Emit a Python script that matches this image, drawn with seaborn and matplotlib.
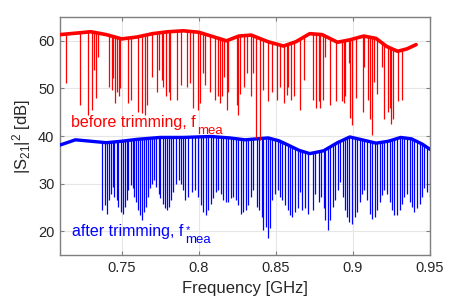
import numpy as np
import pandas as pd
import matplotlib
matplotlib.use("Agg")
import matplotlib.pyplot as plt
import seaborn as sns

red_base_f = [0.710, 0.720, 0.730, 0.740, 0.750, 0.760, 0.770, 0.780, 0.790, 0.800,
              0.810, 0.818, 0.826, 0.834, 0.845, 0.855, 0.863, 0.872, 0.880, 0.890,
              0.898, 0.907, 0.915, 0.922, 0.929, 0.935, 0.941]
red_base_db = [61.3, 61.6, 61.9, 61.3, 60.4, 60.8, 61.5, 61.9, 62.1, 61.8,
               60.8, 60.0, 61.0, 61.2, 59.8, 58.9, 59.8, 61.5, 61.3, 59.7,
               60.2, 61.0, 60.5, 58.8, 57.8, 58.3, 59.2]

blue_base_f = [0.710, 0.720, 0.730, 0.740, 0.750, 0.760, 0.775, 0.790, 0.808, 0.820,
               0.830, 0.845, 0.852, 0.858, 0.865, 0.872, 0.881, 0.890, 0.898, 0.906,
               0.915, 0.923, 0.931, 0.938, 0.945, 0.950]
blue_base_db = [38.1, 39.2, 38.9, 38.6, 38.9, 39.3, 39.7, 39.7, 39.9, 39.6,
                39.2, 39.6, 39.0, 38.1, 37.0, 36.3, 36.9, 38.6, 39.8, 39.2,
                38.5, 38.9, 39.7, 39.4, 38.3, 37.2]

# resonance dips: frequency [GHz] and minimum level [dB]
red_dip_f = [0.7139, 0.7230, 0.7284, 0.7310, 0.7321, 0.7332, 0.7349, 0.7418, 0.7436, 0.7446,
             0.7459, 0.7470, 0.7481, 0.7492, 0.7544, 0.7561, 0.7609, 0.7630, 0.7652, 0.7663,
             0.7695, 0.7728, 0.7745, 0.7760, 0.7771, 0.7788, 0.7804, 0.7814, 0.7862, 0.7884,
             0.7922, 0.7943, 0.7965, 0.7993, 0.8008, 0.8030, 0.8041, 0.8073, 0.8106, 0.8123,
             0.8138, 0.8153, 0.8166, 0.8182, 0.8192, 0.8247, 0.8257, 0.8268, 0.8296, 0.8312,
             0.8340, 0.8355, 0.8372, 0.8398, 0.8420, 0.8448, 0.8478, 0.8506, 0.8528, 0.8550,
             0.8571, 0.8582, 0.8600, 0.8615, 0.8658, 0.8680,
             0.8740, 0.8762, 0.8777, 0.8788, 0.8805, 0.8820, 0.8853, 0.8892, 0.8929, 0.8944,
             0.8950, 0.8972, 0.8983, 0.8994, 0.9022, 0.9065, 0.9074, 0.9095, 0.9108, 0.9124,
             0.9139, 0.9156, 0.9189, 0.9204, 0.9225, 0.9238, 0.9249, 0.9260, 0.9290, 0.9316]
red_dip_db = [51.1, 46.5, 44.4, 45.5, 53.9, 47.9, 56.7, 50.4, 49.7, 52.1,
              46.9, 49.3, 48.3, 50.0, 46.9, 47.6, 45.1, 44.8, 44.4, 46.5,
              52.5, 49.3, 53.9, 51.8, 50.4, 48.3, 49.3, 47.6, 47.6, 50.7,
              50.4, 51.1, 45.8, 45.5, 46.9, 53.2, 50.7, 49.3, 47.6, 48.3,
              46.9, 48.3, 52.5, 45.5, 49.3, 46.5, 44.4, 48.9, 50.4, 53.2,
              48.3, 53.2, 39.5, 39.2, 49.7, 47.3, 49.3, 47.6, 50.4, 46.9,
              48.6, 50.4, 47.6, 48.3, 45.5, 51.8,
              47.6, 45.8, 47.3, 45.8, 47.6, 56.7, 46.5, 47.3, 47.3, 46.9,
              48.3, 55.3, 43.7, 42.3, 47.9, 45.1, 54.6, 47.6, 43.5, 40.2,
              51.4, 48.9, 54.6, 43.5, 45.1, 45.8, 42.6, 43.5, 47.3, 47.6]

blue_dip_f = [0.7375, 0.7392, 0.7403, 0.7418, 0.7429, 0.7442, 0.7453, 0.7468, 0.7479, 0.7494,
              0.7507, 0.7522, 0.7533, 0.7544, 0.7559, 0.7572, 0.7583, 0.7594, 0.7609, 0.7620,
              0.7630, 0.7646, 0.7659, 0.7669, 0.7685, 0.7695, 0.7711, 0.7724, 0.7739, 0.7750,
              0.7765, 0.7778, 0.7793, 0.7804, 0.7819, 0.7836, 0.7853, 0.7869, 0.7884, 0.7901,
              0.7911, 0.7933, 0.7954, 0.7976, 0.7998, 0.8015, 0.8030, 0.8045, 0.8063, 0.8080,
              0.8095, 0.8110, 0.8128, 0.8145, 0.8160, 0.8175, 0.8192, 0.8210, 0.8225, 0.8240,
              0.8257, 0.8275, 0.8290, 0.8305, 0.8322, 0.8340, 0.8355, 0.8377, 0.8392, 0.8409,
              0.8420, 0.8435, 0.8448, 0.8463, 0.8478, 0.8496, 0.8513, 0.8528, 0.8543, 0.8560,
              0.8578, 0.8593, 0.8608, 0.8625, 0.8643, 0.8658, 0.8673, 0.8690, 0.8708,
              0.8740, 0.8755, 0.8777, 0.8792, 0.8810, 0.8820, 0.8836, 0.8853, 0.8870, 0.8885,
              0.8903, 0.8918, 0.8933, 0.8946, 0.8961, 0.8976, 0.8994, 0.9011, 0.9026, 0.9043,
              0.9059, 0.9074, 0.9091, 0.9108, 0.9124, 0.9141, 0.9156, 0.9173, 0.9188, 0.9204,
              0.9221, 0.9238, 0.9253, 0.9269, 0.9286, 0.9303, 0.9318, 0.9334, 0.9351, 0.9368,
              0.9383, 0.9398, 0.9416, 0.9433, 0.9448, 0.9463, 0.9481, 0.9498]
blue_dip_db = [24.4, 25.5, 23.7, 26.5, 27.9, 29.3, 27.2, 26.5, 25.1, 24.1,
               23.7, 25.1, 26.5, 28.6, 29.7, 29.0, 27.2, 26.2, 24.4, 23.4,
               22.3, 24.1, 25.1, 27.2, 29.0, 30.0, 30.7, 29.3, 27.9, 26.9,
               25.8, 24.8, 24.4, 25.1, 26.5, 28.3, 30.0, 30.7, 30.0, 28.6,
               26.5, 27.2, 28.3, 28.6, 27.2, 25.5, 24.1, 23.4, 24.4, 25.8,
               26.9, 28.3, 28.6, 27.9, 26.5, 26.2, 26.2, 26.9, 27.2, 26.5,
               25.5, 23.7, 24.1, 24.4, 25.5, 27.2, 28.6, 25.1, 24.4, 23.0,
               20.2, 20.9, 18.5, 20.6, 26.5, 27.9, 28.6, 27.2, 26.5, 25.5,
               24.4, 23.4, 23.0, 24.1, 24.8, 28.3, 24.4, 24.8, 23.7,
               24.4, 27.9, 26.2, 27.2, 24.8, 22.3, 20.2, 22.3, 25.1, 26.5,
               28.6, 30.4, 27.2, 24.4, 23.0, 21.9, 21.5, 23.0, 24.1, 26.2,
               27.9, 28.6, 26.5, 23.7, 22.6, 23.0, 24.4, 26.2, 27.6, 28.6,
               27.9, 26.2, 24.4, 23.4, 23.4, 24.4, 25.8, 27.2, 27.9, 26.2,
               25.1, 24.1, 24.8, 25.8, 27.2, 29.0, 28.3, 27.2]

x_ticks = [0.75, 0.8, 0.85, 0.9, 0.95]
x_ticklabels = ["0.75", "0.8", "0.85", "0.9", "0.95"]
y_ticks = [20, 30, 40, 50, 60]

sns.set_theme(style="whitegrid")
plt.rcParams["font.family"] = ["Liberation Sans", "DejaVu Sans"]
plt.rcParams["mathtext.fontset"] = "custom"
plt.rcParams["mathtext.rm"] = "Liberation Sans"
plt.rcParams["mathtext.it"] = "Liberation Sans"

fig = plt.figure(figsize=(4.63, 3.0), dpi=100)
ax = fig.add_axes([0.1296, 0.15, 0.7991, 0.7933])

df_red = pd.DataFrame({"f": red_base_f, "db": red_base_db})
df_blue = pd.DataFrame({"f": blue_base_f, "db": blue_base_db})

# dips hang from the envelope
blue_top = np.interp(blue_dip_f, blue_base_f, blue_base_db)
red_top = np.interp(red_dip_f, red_base_f, red_base_db)
ax.vlines(blue_dip_f, blue_dip_db, blue_top, color="#0000ff", lw=0.9, zorder=2)
sns.lineplot(data=df_blue, x="f", y="db", color="#0000ff", lw=2.4, ax=ax, zorder=3)
ax.vlines(red_dip_f, red_dip_db, red_top, color="#ff0000", lw=0.9, zorder=4)
sns.lineplot(data=df_red, x="f", y="db", color="#ff0000", lw=2.6, ax=ax, zorder=5)

ax.set_xlim(0.71, 0.95)
ax.set_ylim(15, 65)
ax.set_xticks(x_ticks)
ax.set_xticklabels(x_ticklabels)
ax.set_yticks(y_ticks)
ax.set_xlabel("Frequency [GHz]", fontsize=12, color="#262626", labelpad=5)
ax.set_ylabel(r"$\mathregular{|S_{21}|^2}$ [dB]", fontsize=12, color="#262626")

ax.grid(True, color="#e6e6e6", lw=0.8)
for s in ax.spines.values():
    s.set_color("#7f7f7f")
    s.set_linewidth(1.0)
ax.tick_params(direction="in", length=3, width=0.8, color="#7f7f7f",
               labelsize=10.5, labelcolor="#262626", top=True, right=True,
               bottom=True, left=True, pad=4)

# annotations with MATLAB-like low subscripts
t_red = ax.text(0.7172, 42.8, "before trimming, f", color="#ff0000",
                fontsize=11.5, va="center", ha="left")
t_blue = ax.text(0.7178, 19.9, "after trimming, f", color="#0000ff",
                 fontsize=11.5, va="center", ha="left")
fig.canvas.draw()
for t, col, star in [(t_red, "#ff0000", False), (t_blue, "#0000ff", True)]:
    bb = t.get_window_extent()
    ax.annotate("mea", xy=(bb.x1, bb.y0), xycoords="figure pixels",
                xytext=(1, -5), textcoords="offset points",
                color=col, fontsize=9.5, va="bottom", ha="left")
    if star:
        ax.annotate("*", xy=(bb.x1, bb.y1), xycoords="figure pixels",
                    xytext=(1.5, -4), textcoords="offset points",
                    color=col, fontsize=8, va="center", ha="left")

fig.savefig("out.png", dpi=100)
